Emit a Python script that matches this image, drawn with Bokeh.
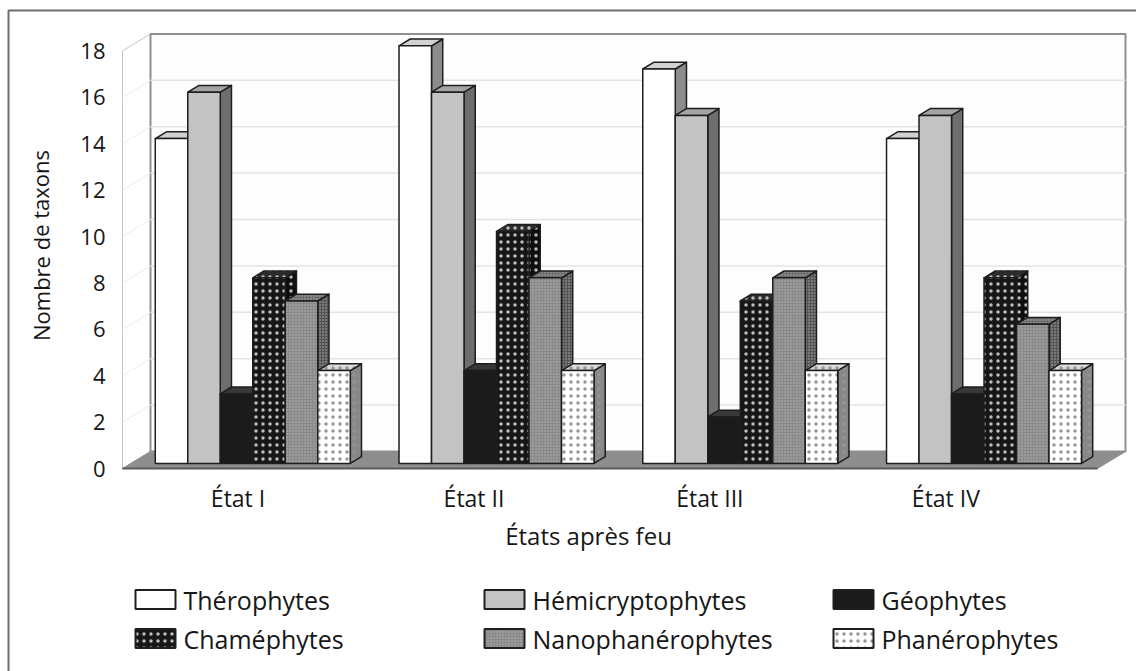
from bokeh.plotting import figure
from bokeh.models import Range1d
from bokeh.core.properties import value
from bokeh.embed import file_html
from bokeh.resources import INLINE

# ---- data -------------------------------------------------------------
states = ["État I", "État II", "État III", "État IV"]
therophytes = [14, 18, 17, 14]
hemicryptophytes = [16, 16, 15, 15]
geophytes = [3, 4, 2, 3]
chamephytes = [8, 10, 7, 8]
nanophanerophytes = [7, 8, 8, 6]
phanerophytes = [4, 4, 4, 4]
y_ticks = [0, 2, 4, 6, 8, 10, 12, 14, 16, 18]

series_names = ["Thérophytes", "Hémicryptophytes", "Géophytes",
                "Chaméphytes", "Nanophanérophytes", "Phanérophytes"]
series_values = [therophytes, hemicryptophytes, geophytes,
                 chamephytes, nanophanerophytes, phanerophytes]

# ---- page geometry ----------------------------------------------------
W, H = 1136, 671
CAT_PX = 243.75        # pixels per category on the front plane
UNIT_PX = 23.2         # pixels per taxon on the value axis
ORIGIN_X_PX = 122      # left edge of the front plane
ORIGIN_Y_PX = 468      # value 0 on the front plane (from top)


def sx(px):
    return (px - ORIGIN_X_PX) / CAT_PX


def sy(py):
    return (ORIGIN_Y_PX - py) / UNIT_PX


# oblique depth of the 3-D box (back wall offset)
DX = 28 / CAT_PX
DY = 17 / UNIT_PX
N = len(states)
YMAX = y_ticks[-1]

FONT = value("Open Sans")
TXT = "#161616"
EDGE = "#1e1e1e"

p = figure(width=W, height=H,
           x_range=Range1d(sx(0), sx(W)), y_range=Range1d(sy(H), sy(0)),
           min_border=0, toolbar_location=None, output_backend="svg",
           x_axis_type=None, y_axis_type=None, outline_line_color=None)
p.background_fill_color = "white"
p.border_fill_color = "white"

# outer frame of the figure (left and top edges are on the page)
p.line(x=[sx(8), sx(8), sx(W + 20)], y=[sy(H + 20), sy(10), sy(10)],
       line_color="#6e6e6e", line_width=2)

# ---- walls and floor ----------------------------------------------------
# side wall
p.patch(x=[0, 0, DX, DX], y=[0, YMAX, YMAX + DY, DY],
        fill_color="white", line_color="#c4c4c4", line_width=1)
# back wall
p.patch(x=[DX, DX, N + DX, N + DX], y=[DY, YMAX + DY, YMAX + DY, DY],
        fill_color="#fdfdfd", line_color="#8f8f8f", line_width=2)

grid_vals = [v for v in y_ticks if 0 < v < YMAX]
p.multi_line(xs=[[DX, N + DX] for _ in grid_vals],
             ys=[[v + DY, v + DY] for v in grid_vals],
             line_color="#e3e3e3", line_width=1.5)
p.multi_line(xs=[[0, DX] for _ in grid_vals],
             ys=[[v, v + DY] for v in grid_vals],
             line_color="#ececec", line_width=1)

# floor
p.patch(x=[0, N, N + DX, DX], y=[0, 0, DY, DY],
        fill_color="#8e8e8e", line_color="#8e8e8e", line_width=1)
p.line(x=[0, N], y=[0, 0], line_color="#5a5a5a", line_width=2)

# ---- bars ---------------------------------------------------------------
styles = [
    dict(front="#ffffff", top="#d2d2d2", side="#8c8c8c"),
    dict(front="#c3c3c3", top="#a4a4a4", side="#6e6e6e"),
    dict(front="#1b1b1b", top="#383838", side="#101010"),
    dict(front="#171717", top="#2c2c2c", side="#0e0e0e",
         hatch=dict(hatch_pattern="dot", hatch_color="#bdbdbd",
                    hatch_scale=7, hatch_weight=1.5)),
    dict(front="#8a8a8a", top="#6c6c6c", side="#545454",
         hatch=dict(hatch_pattern="dot", hatch_color="#b3b3b3",
                    hatch_scale=3, hatch_weight=1)),
    dict(front="#ffffff", top="#dadada", side="#888888",
         hatch=dict(hatch_pattern="dot", hatch_color="#959595",
                    hatch_scale=7, hatch_weight=1.5)),
]

n_series = len(series_values)
BAR_W = 1 / (n_series + 1.5)       # gap width 150 %
SIDE_GAP = 0.75 * BAR_W
D_FRONT, D_BACK = 0.3, 0.7
ddx = (D_BACK - D_FRONT) * DX
ddy = (D_BACK - D_FRONT) * DY
bot = D_FRONT * DY

for j, (vals, st) in enumerate(zip(series_values, styles)):
    x0 = [i + SIDE_GAP + j * BAR_W + D_FRONT * DX for i in range(N)]
    x1 = [a + BAR_W for a in x0]
    top = [v + bot for v in vals]
    hatch = st.get("hatch", {})
    side_xs = [[b, b, b + ddx, b + ddx] for b in x1]
    side_ys = [[bot, t, t + ddy, bot + ddy] for t in top]
    top_xs = [[a, b, b + ddx, a + ddx] for a, b in zip(x0, x1)]
    top_ys = [[t, t, t + ddy, t + ddy] for t in top]
    p.patches(side_xs, side_ys, fill_color=st["side"], line_color=EDGE,
              line_width=1.5, line_join="round", **hatch)
    p.patches(top_xs, top_ys, fill_color=st["top"], line_color=EDGE,
              line_width=1.5, line_join="round", **hatch)
    p.quad(left=x0, right=x1, bottom=bot, top=top, fill_color=st["front"],
           line_color=EDGE, line_width=1.5, **hatch)

# ---- axes text ----------------------------------------------------------
p.text(x=[sx(105)] * len(y_ticks), y=y_ticks, text=[str(v) for v in y_ticks],
       text_align="right", text_baseline="middle", text_font=FONT,
       text_font_size="22px", text_color=TXT)

label_x = [(i + 0.5) * 0.968 - 0.01 for i in range(N)]
p.text(x=label_x, y=[sy(497)] * N, text=states, text_align="center",
       text_baseline="middle", text_font=FONT, text_font_size="23px",
       text_color=TXT)

p.text(x=[sx(588)], y=[sy(535)], text=["États après feu"], text_align="center",
       text_baseline="middle", text_font=FONT, text_font_size="24px",
       text_color=TXT)

p.text(x=[sx(40)], y=[sy(245)], text=["Nombre de taxons"], angle=1.5708,
       text_align="center", text_baseline="middle", text_font=FONT,
       text_font_size="22px", text_color=TXT)

# ---- legend -------------------------------------------------------------
col_px = [135, 484, 833]
row_px = [599, 638]
SW_W, SW_H = 40, 19
for k, (name, st) in enumerate(zip(series_names, styles)):
    cx = col_px[k % 3]
    cy = row_px[k // 3]
    hatch = st.get("hatch", {})
    p.quad(left=[sx(cx)], right=[sx(cx + SW_W)], bottom=[sy(cy + SW_H / 2)],
           top=[sy(cy - SW_H / 2)], fill_color=st["front"], line_color=EDGE,
           line_width=2, **hatch)
    p.text(x=[sx(cx + SW_W + 8)], y=[sy(cy)], text=[name], text_align="left",
           text_baseline="middle", text_font=FONT, text_font_size="25px",
           text_color=TXT)

open("out.html", "w").write(file_html(p, INLINE))
